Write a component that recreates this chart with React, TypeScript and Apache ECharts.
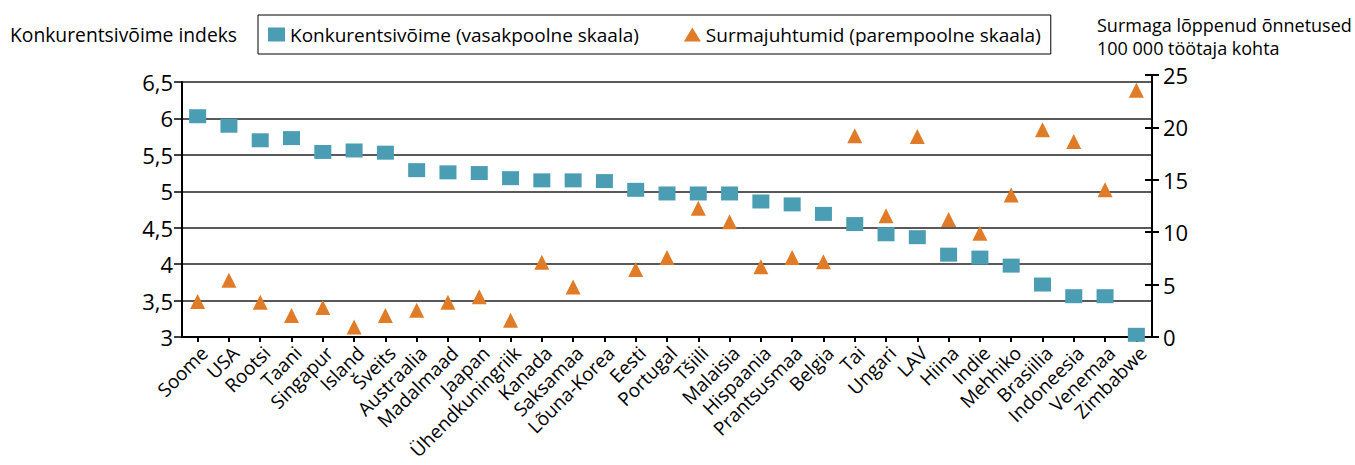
import React, { useEffect, useRef } from "react";
import * as echarts from "echarts";

const categories = [
  "Soome", "USA", "Rootsi", "Taani", "Singapur", "Island", "Šveits", "Austraalia",
  "Madalmaad", "Jaapan", "Ühendkuningriik", "Kanada", "Saksamaa", "Lõuna-Korea",
  "Eesti", "Portugal", "Tšiili", "Malaisia", "Hispaania", "Prantsusmaa", "Belgia",
  "Tai", "Ungari", "LAV", "Hiina", "Indie", "Mehhiko", "Brasiilia", "Indoneesia",
  "Venemaa", "Zimbabwe",
];

const competitiveness = [
  6.03, 5.9, 5.7, 5.73, 5.54, 5.56, 5.53, 5.29, 5.26, 5.25, 5.18, 5.15, 5.15, 5.14,
  5.02, 4.97, 4.97, 4.97, 4.86, 4.82, 4.69, 4.55, 4.41, 4.37, 4.13, 4.09, 3.98,
  3.72, 3.56, 3.56, 3.03,
];

const fatalities: (number | null)[] = [
  3.38, 5.42, 3.31, 2.04, 2.81, 0.95, 2.04, 2.55, 3.31, 3.83, 1.59, 7.14, 4.78, null,
  6.44, 7.59, 12.28, 11.0, 6.7, 7.59, 7.17, 19.2, 11.57, 19.13, 11.22, 9.91, 13.55,
  19.77, 18.65, 14.04, 23.54,
];

const seriesNames = [
  "Konkurentsivõime (vasakpoolne skaala)",
  "Surmajuhtumid (parempoolne skaala)",
];
const leftAxisTitle = "Konkurentsivõime indeks";
const rightAxisTitle = ["Surmaga lõppenud õnnetused", "100 000 töötaja kohta"];

const FONT = "'Open Sans', sans-serif";
const TEAL = "#4b9db4";
const ORANGE = "#e07b27";

export default function App() {
  const ref = useRef<HTMLDivElement>(null);

  useEffect(() => {
    if (!ref.current) return;
    const chart = echarts.init(ref.current, undefined, { renderer: "svg" });
    const gridCommon = { left: 182, right: 203, bottom: 128, containLabel: false };
    chart.setOption({
      animation: false,
      backgroundColor: "#fff",
      textStyle: { fontFamily: FONT, color: "#000" },
      grid: [
        { ...gridCommon, top: 82 },
        { ...gridCommon, top: 75 },
      ],
      legend: {
        left: 258,
        top: 15,
        orient: "horizontal",
        borderColor: "#000",
        borderWidth: 1,
        padding: [10, 10, 10, 10],
        itemGap: 45,
        itemWidth: 17,
        itemHeight: 14,
        textStyle: { fontSize: 19, fontFamily: FONT, color: "#000" },
        data: [
          { name: seriesNames[0], icon: "rect" },
          { name: seriesNames[1], icon: "triangle" },
        ],
      },
      xAxis: [
        {
          type: "category",
          gridIndex: 0,
          data: categories,
          boundaryGap: true,
          axisLine: { show: true, lineStyle: { color: "#000", width: 2 } },
          axisTick: { show: true, alignWithLabel: true, length: 5, lineStyle: { color: "#000", width: 2 } },
          axisLabel: {
            interval: 0,
            rotate: 45,
            margin: 6,
            fontSize: 19,
            fontFamily: FONT,
            color: "#000",
            verticalAlign: "top",
          },
          splitLine: { show: false },
        },
        {
          type: "category",
          gridIndex: 1,
          data: categories,
          boundaryGap: true,
          show: false,
        },
      ],
      yAxis: [
        {
          type: "value",
          gridIndex: 0,
          position: "left",
          min: 3,
          max: 6.5,
          interval: 0.5,
          axisLine: { show: true, lineStyle: { color: "#000", width: 2 } },
          axisTick: { show: true, length: 8, lineStyle: { color: "#000", width: 1.5 } },
          axisLabel: {
            fontSize: 22,
            fontFamily: FONT,
            color: "#000",
            margin: 9,
            formatter: (v: number) => String(v).replace(".", ","),
          },
          splitLine: { show: true, lineStyle: { color: "#222", width: 1.5 } },
        },
        {
          type: "value",
          gridIndex: 1,
          position: "right",
          min: 0,
          max: 25,
          interval: 5,
          axisLine: { show: true, lineStyle: { color: "#000", width: 2 } },
          axisTick: { show: true, length: 7, lineStyle: { color: "#000", width: 2 } },
          axisLabel: { fontSize: 22, fontFamily: FONT, color: "#000", margin: 11 },
          splitLine: { show: false },
        },
        {
          type: "value",
          gridIndex: 1,
          position: "right",
          offset: 0,
          min: 0,
          max: 25,
          interval: 5,
          axisLine: { show: false },
          axisTick: { show: true, inside: true, length: 7, lineStyle: { color: "#000", width: 2 } },
          axisLabel: { show: false },
          splitLine: { show: false },
        },
      ],
      series: [
        {
          name: seriesNames[0],
          type: "scatter",
          xAxisIndex: 0,
          yAxisIndex: 0,
          symbol: "rect",
          symbolSize: [17, 14],
          itemStyle: { color: TEAL, opacity: 1 },
          data: competitiveness,
          z: 3,
        },
        {
          name: seriesNames[1],
          type: "scatter",
          xAxisIndex: 1,
          yAxisIndex: 1,
          symbol: "triangle",
          symbolSize: [15, 15],
          itemStyle: { color: ORANGE, opacity: 1 },
          data: fatalities.map((v) => (v === null ? "-" : v)),
          z: 4,
        },
      ],
      graphic: [
        {
          type: "text",
          left: 10,
          top: 25,
          style: { text: leftAxisTitle, font: `19.3px ${FONT}`, fill: "#000" },
        },
        {
          type: "text",
          left: 1097,
          top: 13,
          style: {
            text: rightAxisTitle.join("\n"),
            font: `18px ${FONT}`,
            lineHeight: 23,
            fill: "#000",
          },
        },
      ],
    });
    return () => chart.dispose();
  }, []);

  return (
    <div
      ref={ref}
      style={{ position: "fixed", left: 0, top: 0, width: 1355, height: 465, background: "#fff" }}
    />
  );
}
